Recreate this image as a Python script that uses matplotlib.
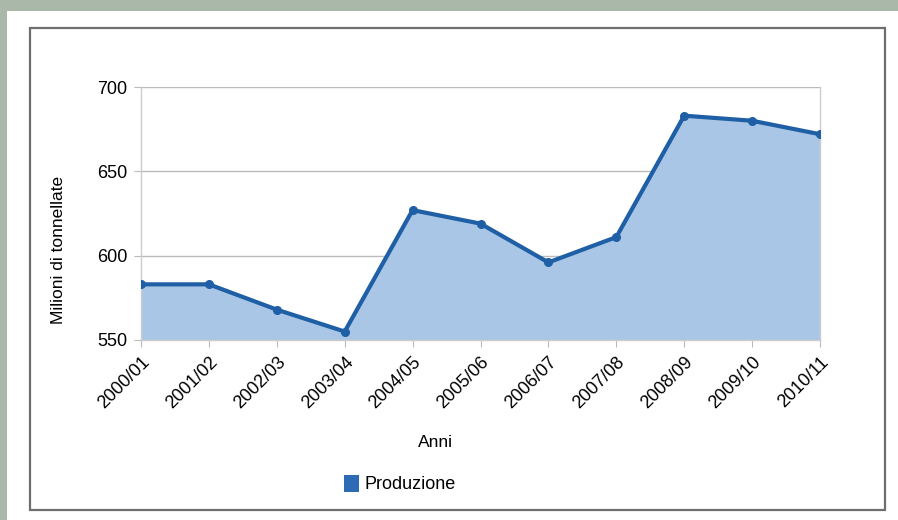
import matplotlib
matplotlib.use('Agg')
import matplotlib.pyplot as plt
from matplotlib.patches import Rectangle, Patch

anni = ['2000/01', '2001/02', '2002/03', '2003/04', '2004/05', '2005/06',
        '2006/07', '2007/08', '2008/09', '2009/10', '2010/11']
produzione = [583, 583, 568, 555, 627, 619, 596, 611, 683, 680, 672]
y_ticks = [550, 600, 650, 700]


def main():
    plt.rcParams['font.family'] = ['Liberation Sans', 'DejaVu Sans']
    fig = plt.figure(figsize=(8.98, 5.2), dpi=100)
    fig.patch.set_facecolor('#a9b8a8')

    # white panel and chart frame (behind the axes)
    fig.patches.append(Rectangle((7 / 898, 0), 1, 1 - 11 / 520, transform=fig.transFigure,
                                 facecolor='white', edgecolor='none', zorder=-2))
    fig.patches.append(Rectangle((30 / 898, 10 / 520), 855 / 898, 482 / 520, transform=fig.transFigure,
                                 facecolor='none', edgecolor='#6e6e6e', linewidth=1.6, zorder=-1))

    ax = fig.add_axes([141 / 898, 1 - 340 / 520, 679 / 898, 253 / 520])
    ax.set_facecolor('white')
    x = list(range(len(anni)))
    ax.fill_between(x, produzione, 550, color='#a9c6e6', zorder=2)
    ax.plot(x, produzione, color='#1f5fa6', linewidth=3, marker='o', markersize=5.5, zorder=3)

    ax.set_xlim(0, len(anni) - 1)
    ax.set_ylim(550, 700)
    ax.set_yticks(y_ticks)
    ax.set_xticks(x)
    ax.set_xticklabels(anni, rotation=45, ha='right', rotation_mode='anchor')
    ax.tick_params(axis='x', labelsize=13, length=5, color='#bbbbbb', pad=5)
    ax.tick_params(axis='y', labelsize=13, length=5, color='#bbbbbb', pad=5)
    ax.yaxis.grid(True, color='#bbbbbb', linewidth=1, zorder=1)
    ax.set_axisbelow(True)
    for s in ax.spines.values():
        s.set_color('#cccccc')
        s.set_linewidth(1)
    ax.spines['top'].set_visible(False)

    ax.set_ylabel('Milioni di tonnellate', fontsize=12.5)
    ax.yaxis.set_label_coords(-0.11, 0.356)
    ax.set_xlabel('Anni', fontsize=12.5)
    ax.xaxis.set_label_coords(0.433, -0.375)

    fig.legend(handles=[Patch(facecolor='#2d6bb5', edgecolor='none', label='Produzione')],
               loc='center', bbox_to_anchor=(400 / 898, 1 - 484 / 520), frameon=False,
               fontsize=13, handlelength=0.8, handleheight=1.1, handletextpad=0.3)

    fig.savefig('out.png', dpi=100, facecolor=fig.get_facecolor())


if __name__ == '__main__':
    main()
